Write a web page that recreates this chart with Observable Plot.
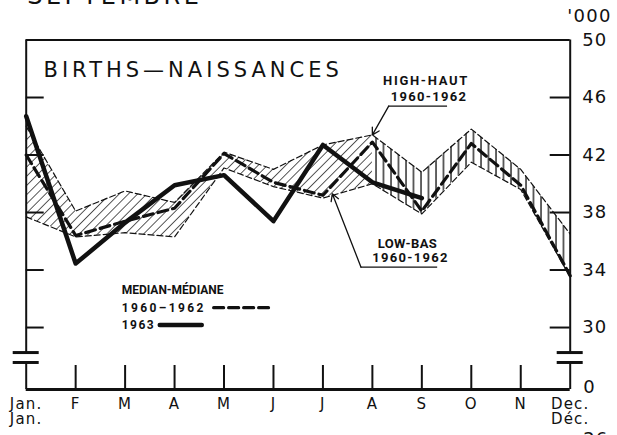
<!DOCTYPE html>
<html><head><meta charset="utf-8">
<script src="https://cdn.jsdelivr.net/npm/d3@7"></script>
<script src="https://cdn.jsdelivr.net/npm/@observablehq/plot@0.6"></script>
<style>
html,body{margin:0;padding:0;background:#fff;overflow:hidden;}
#chart svg{overflow:hidden;}
</style></head>
<body><div id="chart"></div>
<script>
// ---- data (thousands of births) ----
const monthLabels = ["Jan.\nJan.","F","M","A","M","J","J","A","S","O","N","Dec.\nDéc."];
const high1960_62   = [44.0, 38.1, 39.5, 38.7, 42.2, 41.0, 42.7, 43.4, 40.8, 43.8, 41.0, 36.5];
const low1960_62    = [37.7, 36.3, 36.6, 36.3, 41.1, 39.8, 39.0, 40.0, 37.9, 41.5, 39.6, 33.5];
const median1960_62 = [42.0, 36.4, 37.4, 38.3, 42.1, 40.1, 39.2, 42.9, 38.1, 42.8, 39.9, 33.6];
const births1963    = [44.7, 34.45, 37.3, 39.9, 40.6, 37.4, 42.7, 40.1, 39.0];
const yTickValues = [50, 46, 42, 38, 34, 30];
const yTickLabels = ["50", "46", "42", "38", "34", "30"];
const yBase = 25.69;            // broken axis: bottom line labelled "0"
const yBaseLabel = "0";
const yBreaks = [28.26, 27.57]; // break bars on the vertical frame
const unitLabel = "'000";
const titleText = "BIRTHS—NAISSANCES";
const headerText = "SEPTEMBRE";
const pageText = "26";

// ---- build tables ----
const idx = monthLabels.map((_, i) => i);
const band = idx.map(i => ({i, low: low1960_62[i], high: high1960_62[i], median: median1960_62[i]}));
const y1963 = births1963.map((v, i) => ({i, v}));
const hatchSplit = 7; // hatching changes direction from August on

// annotation anchors in data space
const highLabel = [{x: 8.085, y: 47.18, t: "HIGH-HAUT"}, {x: 8.146, y: 46.07, t: "1960-1962"}];
const lowLabel = [{x: 7.71, y: 35.84, t: "LOW-BAS"}, {x: 7.77, y: 34.83, t: "1960-1962"}];
const underlines = [{x1: 7.33, x2: 8.52, y: 45.4}, {x1: 6.77, x2: 8.32, y: 34.2}];
const leaders = [{x1: 7.33, y1: 45.4, x2: 7.0, y2: 43.4}, {x1: 6.77, y1: 34.2, x2: 6.19, y2: 39.3}];
const legendText = [{x: 1.93, y: 32.57, t: "MEDIAN-MÉDIANE"}, {x: 1.93, y: 31.36, t: "1960–1962"}, {x: 1.93, y: 30.17, t: "1963"}];
const legendMedian = [{x: 3.79, y: 31.38}, {x: 4.9, y: 31.38}];
const legend1963 = [{x: 2.70, y: 30.17}, {x: 3.55, y: 30.17}];

const ink = "#111";
const big = "DejaVu Sans, sans-serif";
const small = "Roboto, sans-serif";
const frameW = 617 - 25.7 - 47.3, frameH = 435 - 39.5 - 46;

const chart = Plot.plot({
  width: 617, height: 435,
  marginLeft: 25.7, marginRight: 47.3, marginTop: 39.5, marginBottom: 46,
  x: {type: "linear", domain: [0, 11], axis: null},
  y: {type: "linear", domain: [yBase, 50], axis: null},
  marks: [
    // hatched band between low and high
    Plot.areaY(band.slice(0, hatchSplit + 1), {x: "i", y1: "low", y2: "high", fill: "url(#hatchA)"}),
    Plot.areaY(band.slice(hatchSplit), {x: "i", y1: "low", y2: "high", fill: "url(#hatchB)"}),
    Plot.line(band, {x: "i", y: "high", stroke: ink, strokeWidth: 1.2, strokeDasharray: "6,3"}),
    Plot.line(band, {x: "i", y: "low", stroke: ink, strokeWidth: 1.2, strokeDasharray: "6,3"}),
    Plot.line(band, {x: "i", y: "median", stroke: ink, strokeWidth: 3.2, strokeDasharray: "10,5"}),
    Plot.line(y1963, {x: "i", y: "v", stroke: ink, strokeWidth: 4.5}),
    // frame with breaks
    Plot.ruleY([50], {stroke: ink, strokeWidth: 2}),
    Plot.ruleY([yBase], {stroke: ink, strokeWidth: 3}),
    Plot.ruleX([0, 11], {y1: yBreaks[0], y2: 50, stroke: ink, strokeWidth: 2}),
    Plot.ruleX([0, 11], {y1: yBase, y2: yBreaks[1], stroke: ink, strokeWidth: 2}),
    Plot.ruleY(yBreaks.flatMap(y => [{x: 0, y}, {x: 11, y}]), {x1: "x", x2: "x", y: "y", insetLeft: -13, insetRight: -13, stroke: ink, strokeWidth: 3}),
    // inner ticks
    Plot.tickY(yTickValues.slice(1), {insetRight: frameW - 18, stroke: ink, strokeWidth: 2}),
    Plot.tickY(yTickValues.slice(1), {insetLeft: frameW - 20, stroke: ink, strokeWidth: 2}),
    Plot.tickX(idx.slice(1, 11), {insetTop: frameH - 24, stroke: ink, strokeWidth: 2}),
    // right labels
    Plot.text(yTickValues, {x: 11, y: d => d, text: (d, i) => yTickLabels[i], textAnchor: "start", dx: 12, fontSize: 18, fontFamily: big, fill: ink}),
    Plot.text([yBase], {x: 11, y: d => d, text: () => yBaseLabel, textAnchor: "start", dx: 13, dy: -2, fontSize: 18, fontFamily: big, fill: ink}),
    Plot.text([unitLabel], {x: 11, y: 51.63, text: d => d, textAnchor: "start", dx: -3, fontSize: 18, fontFamily: big, fill: ink}),
    // month labels
    Plot.text(idx, {x: d => d, y: yBase, text: d => monthLabels[d], lineAnchor: "top", dy: 9, fontSize: 15, lineHeight: 1, fontFamily: big, fill: ink}),
    // title
    Plot.text([titleText], {x: 0.35, y: 47.88, text: d => d, textAnchor: "start", fontSize: 21, fontFamily: big, fill: ink}),
    // annotations
    Plot.text(highLabel, {x: "x", y: "y", text: "t", fontSize: 13, fontWeight: "bold", fontFamily: small, fill: ink}),
    Plot.text(lowLabel, {x: "x", y: "y", text: "t", fontSize: 13, fontWeight: "bold", fontFamily: small, fill: ink}),
    Plot.ruleY(underlines, {x1: "x1", x2: "x2", y: "y", stroke: ink, strokeWidth: 1.3}),
    Plot.arrow(leaders, {x1: "x1", y1: "y1", x2: "x2", y2: "y2", stroke: ink, strokeWidth: 1.3, headLength: 9}),
    // legend
    Plot.text(legendText, {x: "x", y: "y", text: "t", textAnchor: "start", fontSize: 12, fontWeight: "bold", fontFamily: small, fill: ink}),
    Plot.line(legendMedian, {x: "x", y: "y", stroke: ink, strokeWidth: 3.2, strokeDasharray: "10,5"}),
    Plot.line(legend1963, {x: "x", y: "y", stroke: ink, strokeWidth: 4.5}),
    // text cut off by the page edges
    Plot.text([headerText], {x: 0, y: 52.47, text: d => d, textAnchor: "start", dx: 1, lineAnchor: "bottom", fontSize: 24, fontFamily: big, fill: ink}),
    Plot.text([pageText], {x: 11, y: 21.8, text: d => d, textAnchor: "start", dx: 13, lineAnchor: "bottom", fontSize: 18, fontFamily: big, fill: ink})
  ]
});

// letter spacing (styling only), keyed on the text content
const spacing = new Map([
  [titleText, 4.0], [headerText, 3.5],
  ["HIGH-HAUT", 1.7], ["LOW-BAS", 0.4], ["1960-1962", 1.3],
  ["MEDIAN-MÉDIANE", 0], ["1960–1962", 2.4], ["1963", 1.5],
  [unitLabel, 1.3], [pageText, 1], [yBaseLabel, 1]
]);
yTickLabels.forEach(t => spacing.set(t, 1));
monthLabels.forEach(t => spacing.set(t.replace("\n", ""), 1.2));
d3.select(chart).selectAll("text").each(function() {
  const s = spacing.get(this.textContent);
  if (s != null) this.style.letterSpacing = s + "px";
});

// hatch patterns for the band
const defs = d3.select(chart).insert("defs", ":first-child");
const patA = defs.append("pattern").attr("id", "hatchA").attr("patternUnits", "userSpaceOnUse")
  .attr("width", 6.5).attr("height", 6.5).attr("patternTransform", "rotate(45)");
patA.append("line").attr("x1", 0).attr("y1", 0).attr("x2", 0).attr("y2", 6.5).attr("stroke", ink).attr("stroke-width", 1.4);
const patB = defs.append("pattern").attr("id", "hatchB").attr("patternUnits", "userSpaceOnUse")
  .attr("width", 7.5).attr("height", 7.5);
patB.append("line").attr("x1", 1).attr("y1", 0).attr("x2", 1).attr("y2", 7.5).attr("stroke", ink).attr("stroke-width", 1.3);
document.getElementById("chart").appendChild(chart);
</script>
</body></html>
